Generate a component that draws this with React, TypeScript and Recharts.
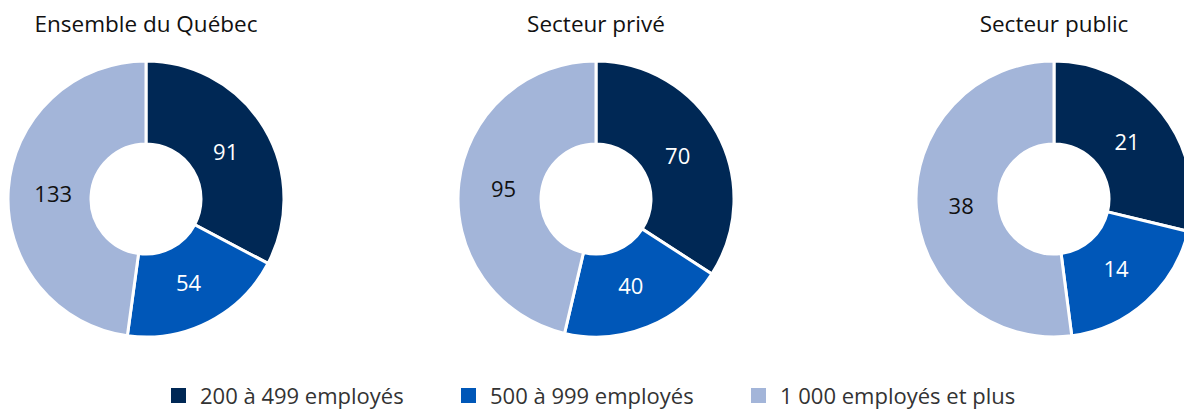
import { PieChart, Pie, Cell } from 'recharts';

const categories = ['200 à 499 employés', '500 à 999 employés', '1 000 employés et plus'];
const panels = ['Ensemble du Québec', 'Secteur privé', 'Secteur public'];
const ensembleValues = [91, 54, 133];
const priveValues = [70, 40, 95];
const publicValues = [21, 14, 38];

const colors = ['#002855', '#0057b8', '#a3b5d9'];
const labelColors = ['#ffffff', '#ffffff', '#111111'];
const centersX = [146, 596, 1054];
const centerY = 199;
const font = '"Open Sans", sans-serif';

const toData = (values: number[]) => values.map((value, i) => ({ name: categories[i], value }));

const RADIAN = Math.PI / 180;
const renderLabel = (props: any) => {
  const { cx, cy, midAngle, value, index } = props;
  const r = 93;
  const x = cx + r * Math.cos(-midAngle * RADIAN);
  const y = cy + r * Math.sin(-midAngle * RADIAN);
  return (
    <text
      x={x}
      y={y}
      fill={labelColors[index]}
      textAnchor="middle"
      dominantBaseline="central"
      fontSize={22}
      fontFamily={font}
    >
      {value}
    </text>
  );
};

const series = [ensembleValues, priveValues, publicValues];

export default function App() {
  return (
    <div style={{ position: 'absolute', left: 0, top: 0, width: 1184, height: 410, overflow: 'hidden', background: '#fff', fontFamily: font }}>
      {panels.map((title, i) => (
        <div
          key={title}
          style={{ position: 'absolute', left: centersX[i] - 150, top: 9, width: 300, textAlign: 'center', fontSize: 22.5, lineHeight: '30px', color: '#111' }}
        >
          {title}
        </div>
      ))}
      <PieChart width={1184} height={410} margin={{ top: 0, right: 0, bottom: 0, left: 0 }} style={{ position: 'absolute', left: 0, top: 0 }}>
        {series.map((values, i) => (
          <Pie
            key={panels[i]}
            data={toData(values)}
            dataKey="value"
            nameKey="name"
            cx={centersX[i]}
            cy={centerY}
            innerRadius={55}
            outerRadius={138}
            startAngle={90}
            endAngle={-270}
            stroke="#ffffff"
            strokeWidth={3}
            label={renderLabel}
            labelLine={false}
            isAnimationActive={false}
          >
            {values.map((_, j) => (
              <Cell key={j} fill={colors[j]} />
            ))}
          </Pie>
        ))}
      </PieChart>
      {categories.map((c, i) => (
        <div
          key={c}
          style={{ position: 'absolute', left: 171 + 290 * i, top: 380, display: 'flex', alignItems: 'center', height: 30, fontSize: 22, color: '#333', whiteSpace: 'nowrap' }}
        >
          <span style={{ display: 'inline-block', width: 15, height: 15, background: colors[i], marginRight: 14 }} />
          {c}
        </div>
      ))}
    </div>
  );
}
